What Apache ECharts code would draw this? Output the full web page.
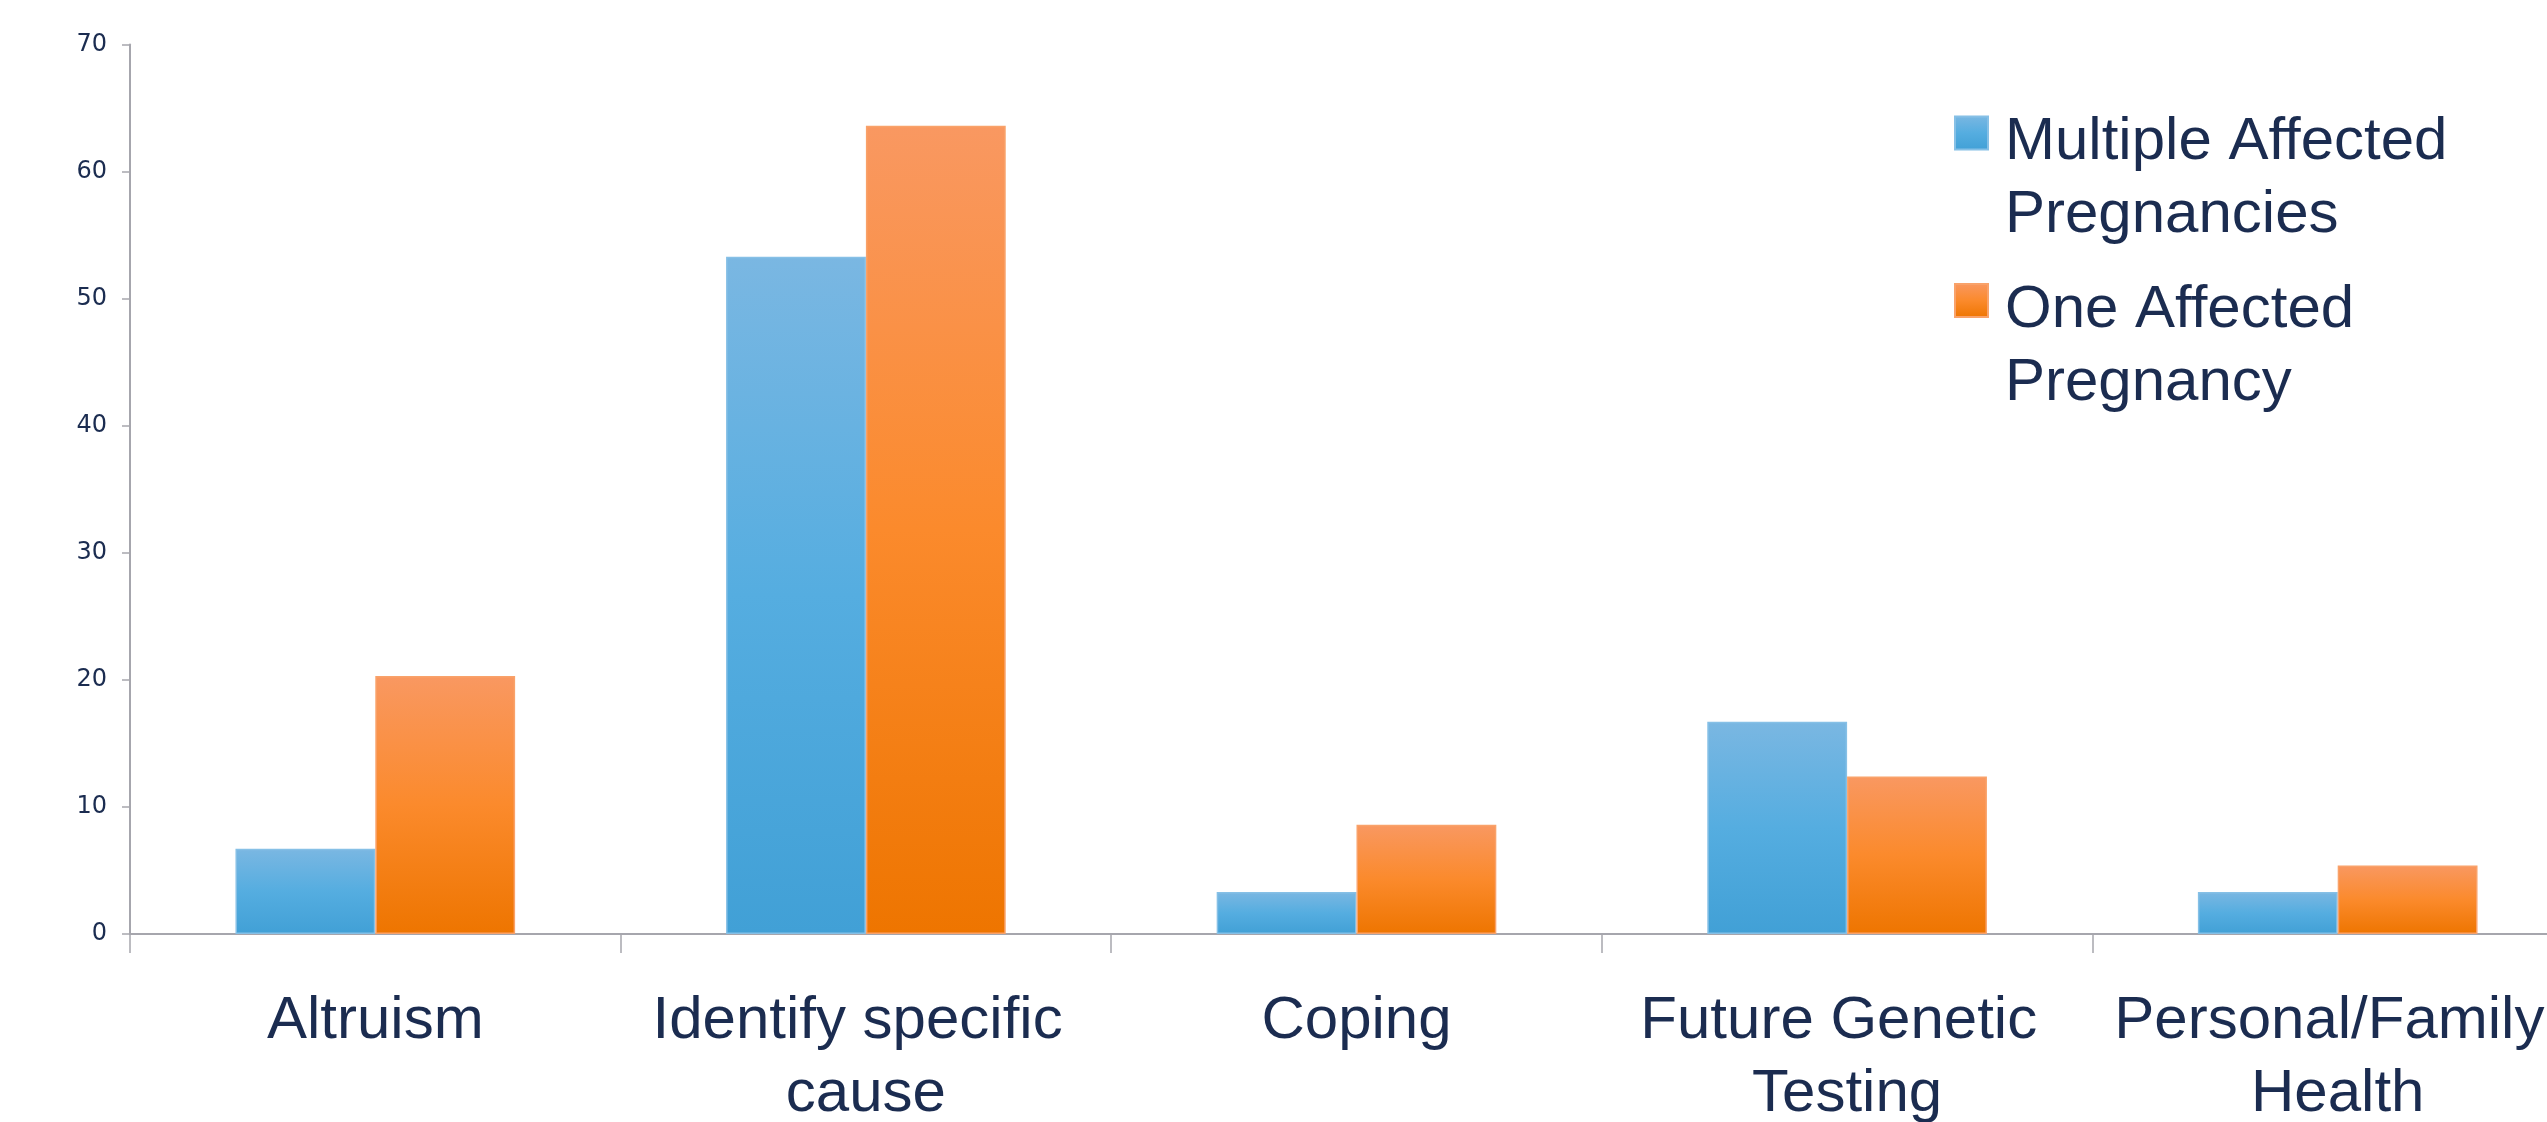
<!DOCTYPE html>
<html>
<head>
<meta charset="utf-8">
<script src="https://cdn.jsdelivr.net/npm/echarts@6/dist/echarts.min.js"></script>
<style>
html,body{margin:0;padding:0;background:#fff;}
#chart{width:2547px;height:1122px;}
</style>
</head>
<body>
<div id="chart"></div>
<script>
const categories = ['Altruism', 'Identify specific cause', 'Coping', 'Future Genetic Testing', 'Personal/Family Health'];
const seriesNames = ['Multiple Affected Pregnancies', 'One Affected Pregnancy'];
const multipleAffected = [6.7, 53.3, 3.3, 16.7, 3.3];
const oneAffected = [20.3, 63.6, 8.6, 12.4, 5.4];
const yTicks = { min: 0, max: 70, interval: 10 };

const navy = '#1b2c50';
const axisGrey = '#a6a6ad';

function grad(stops) {
  return new echarts.graphic.LinearGradient(0, 0, 0, 1, stops.map((c, i) => ({ offset: i / (stops.length - 1), color: c })));
}
const blueFill = grad(['#7ab7e2', '#55ade0', '#41a0d6']);
const orangeFill = grad(['#f99861', '#fb8a2c', '#ee7500']);

const chart = echarts.init(document.getElementById('chart'), null, { renderer: 'canvas' });
chart.setOption({
  backgroundColor: '#ffffff',
  animation: false,
  grid: { left: 130, right: -36, top: 44.5, bottom: 188, containLabel: false, outerBoundsMode: 'none' },
  legend: {
    orient: 'vertical',
    left: 1954,
    top: 55,
    padding: 0,
    itemGap: -23,
    itemWidth: 33,
    itemHeight: 33,
    icon: 'rect',
    selectedMode: false,
    formatter: function (name) {
      const i = name.indexOf(' Pregnanc');
      return '{s| }\n{t|' + name.slice(0, i) + '}\n{t|' + name.slice(i + 1) + '}';
    },
    textStyle: {
      fontFamily: 'Liberation Sans',
      fontSize: 60,
      color: navy,
      padding: [0, 0, 0, 12],
      rich: {
        s: { fontSize: 10, lineHeight: 92 },
        t: { fontFamily: 'Liberation Sans', fontSize: 60, lineHeight: 73, color: navy }
      }
    },
    data: seriesNames
  },
  xAxis: {
    type: 'category',
    data: categories,
    axisLine: { show: true, lineStyle: { color: axisGrey, width: 2 } },
    axisTick: { show: true, length: 19, lineStyle: { color: axisGrey, width: 1.5 } },
    axisLabel: {
      interval: 0,
      margin: 51,
      fontFamily: 'Liberation Sans',
      fontSize: 60,
      lineHeight: 73,
      color: navy,
      width: 470,
      overflow: 'break',
      verticalAlign: 'top'
    },
    splitLine: { show: false }
  },
  yAxis: {
    type: 'value',
    min: yTicks.min,
    max: yTicks.max,
    interval: yTicks.interval,
    axisLine: { show: true, lineStyle: { color: axisGrey, width: 2 } },
    axisTick: { show: true, length: 8, lineStyle: { color: axisGrey, width: 1.5 } },
    axisLabel: {
      margin: 23,
      fontFamily: 'DejaVu Sans',
      fontSize: 24,
      color: navy
    },
    splitLine: { show: false }
  },
  series: [
    {
      name: seriesNames[0],
      type: 'bar',
      data: multipleAffected,
      barGap: '0%',
      barCategoryGap: '43%',
      itemStyle: { color: blueFill, borderColor: '#86c0e6', borderWidth: 1.5 }
    },
    {
      name: seriesNames[1],
      type: 'bar',
      data: oneAffected,
      barGap: '0%',
      barCategoryGap: '43%',
      itemStyle: { color: orangeFill, borderColor: '#f9a26a', borderWidth: 1.5 }
    }
  ]
});
</script>
</body>
</html>
